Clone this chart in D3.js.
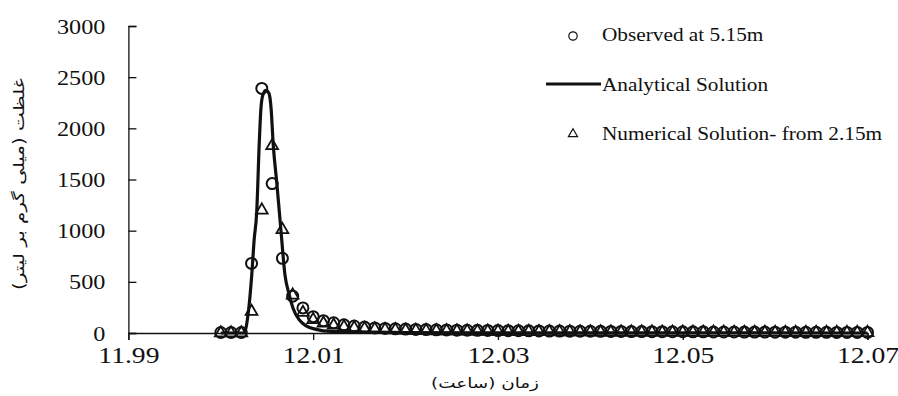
<!DOCTYPE html>
<html>
<head>
<meta charset="utf-8">
<script src="https://cdn.jsdelivr.net/npm/d3@7"></script>
<style>
  body { margin: 0; background: #fff; }
  svg { display: block; }
  .serif { font-family: "Liberation Serif", "Times New Roman", Times, "DejaVu Serif", serif; }
  .fa { font-family: "DejaVu Sans", sans-serif; }
</style>
</head>
<body>
<div id="chart"></div>
<script>
// sample times (hours), one every 4 seconds
const times = [12.00000, 12.00111, 12.00222, 12.00333, 12.00444, 12.00556, 12.00667, 12.00778, 12.00889, 12.01000,
    12.01111, 12.01222, 12.01333, 12.01444, 12.01556, 12.01667, 12.01778, 12.01889, 12.02000, 12.02111,
    12.02222, 12.02333, 12.02444, 12.02556, 12.02667, 12.02778, 12.02889, 12.03000, 12.03111, 12.03222,
    12.03333, 12.03444, 12.03556, 12.03667, 12.03778, 12.03889, 12.04000, 12.04111, 12.04222, 12.04333,
    12.04444, 12.04556, 12.04667, 12.04778, 12.04889, 12.05000, 12.05111, 12.05222, 12.05333, 12.05444,
    12.05556, 12.05667, 12.05778, 12.05889, 12.06000, 12.06111, 12.06222, 12.06333, 12.06444, 12.06556,
    12.06667, 12.06778, 12.06889, 12.07000];

const observed = [5, 5, 5, 680, 2390, 1460, 730, 360, 245, 160,
    120, 100, 80, 68, 58, 50, 45, 41, 38, 35,
    33, 31, 30, 28, 27, 26, 25, 24, 23, 22,
    21, 20, 19, 19, 18, 17, 17, 16, 15, 15,
    14, 14, 13, 13, 12, 12, 11, 11, 10, 10,
    10, 9, 9, 9, 8, 8, 8, 7, 7, 7,
    6, 6, 6, 6];

const numerical = [0, 0, 0, 210, 1200, 1830, 1010, 370, 200, 130,
    95, 75, 60, 50, 43, 37, 33, 30, 27, 25,
    23, 21, 20, 19, 18, 17, 16, 15, 14, 14,
    13, 12, 12, 11, 11, 10, 10, 9, 9, 9,
    8, 8, 8, 7, 7, 7, 6, 6, 6, 6,
    5, 5, 5, 5, 5, 4, 4, 4, 4, 4,
    4, 3, 3, 3];

const analyticTimes = [12.0000, 12.00251, 12.00295, 12.00335, 12.00360, 12.00389, 12.00417, 12.00435, 12.00457,
    12.00489, 12.00522, 12.00544, 12.00568, 12.00605, 12.00649, 12.00695, 12.00739, 12.00783,
    12.00848, 12.00924, 12.01032, 12.01194, 12.0200, 12.0300, 12.0700];
const analyticValues = [0, 0, 180, 566, 900, 1185, 1870, 2200, 2330,
    2370, 2340, 2200, 1836, 1478, 1025, 566, 380, 240,
    130, 70, 35, 15, 5, 2, 0];

const xTicks = [11.99, 12.01, 12.03, 12.05, 12.07];
const yTicks = [0, 500, 1000, 1500, 2000, 2500, 3000];
const legendLabels = ["Observed at 5.15m", "Analytical Solution", "Numerical Solution- from 2.15m"];
const yTitle = "غلظت (میلی گرم بر لیتر)";
const xTitle = "زمان (ساعت)";

const width = 898, height = 396;
const svg = d3.select("#chart").append("svg")
    .attr("width", width)
    .attr("height", height);

const x = d3.scaleLinear().domain([11.99, 12.07]).range([128.4, 867.5]);
const y = d3.scaleLinear().domain([0, 3000]).range([333, 26]);

const ink = "#111";

// stretch text horizontally a bit, like the original
function stretch(sel, k) {
    sel.each(function () {
        let w = this.getComputedTextLength();
        d3.select(this).attr("textLength", w * k).attr("lengthAdjust", "spacingAndGlyphs");
    });
}

// y axis, ticks pointing inward
let yAxis = svg.append("g")
    .attr("transform", `translate(${x.range()[0]},0)`)
    .call(d3.axisLeft(y).tickValues(yTicks).tickSize(-8).tickPadding(23).tickFormat(d3.format("d")));
yAxis.attr("font-family", null);
yAxis.select(".domain").attr("stroke", ink).attr("stroke-width", 1.3);
yAxis.selectAll(".tick line").attr("stroke", ink).attr("stroke-width", 1.3);
yAxis.selectAll(".tick text")
    .attr("class", "serif").attr("font-size", 22).attr("fill", ink)
    .call(stretch, 1.1);

// x axis
let xAxis = svg.append("g")
    .attr("transform", `translate(0,${y(0)})`)
    .call(d3.axisBottom(x).tickValues(xTicks).tickSize(7).tickPadding(6).tickFormat(d3.format(".2f")));
xAxis.attr("font-family", null);
xAxis.select(".domain").attr("stroke", ink).attr("stroke-width", 1.3);
xAxis.selectAll(".tick line").attr("stroke", ink).attr("stroke-width", 1.3);
xAxis.selectAll(".tick text")
    .attr("class", "serif").attr("font-size", 24).attr("fill", ink)
    .call(stretch, 1.15);

// observed circles
svg.append("g")
    .selectAll("circle")
    .data(times.map((t, i) => ({t: t, v: observed[i]})))
    .enter()
    .append("circle")
    .attr("cx", d => x(d.t))
    .attr("cy", d => y(d.v))
    .attr("r", 5.5)
    .attr("fill", "none")
    .attr("stroke", ink)
    .attr("stroke-width", 2);

// analytical line
let line = d3.line()
    .x(d => x(d[0]))
    .y(d => y(d[1]))
    .curve(d3.curveMonotoneX);
svg.append("path")
    .datum(analyticTimes.map((t, i) => [t, analyticValues[i]]))
    .attr("d", line)
    .attr("fill", "none")
    .attr("stroke", ink)
    .attr("stroke-width", 3.2);

// numerical triangles
let tri = d3.symbol().type(d3.symbolTriangle).size(60);
svg.append("g")
    .selectAll("path")
    .data(times.map((t, i) => ({t: t, v: numerical[i]})))
    .enter()
    .append("path")
    .attr("d", tri)
    .attr("transform", d => `translate(${x(d.t)},${y(d.v)})`)
    .attr("fill", "none")
    .attr("stroke", ink)
    .attr("stroke-width", 1.8);

// legend
let legend = svg.append("g");
legend.append("circle")
    .attr("cx", 573).attr("cy", 36).attr("r", 4.2)
    .attr("fill", "none").attr("stroke", ink).attr("stroke-width", 1.2);
legend.append("line")
    .attr("x1", 546).attr("x2", 601).attr("y1", 84).attr("y2", 84)
    .attr("stroke", ink).attr("stroke-width", 3.2);
legend.append("path")
    .attr("d", d3.symbol().type(d3.symbolTriangle).size(36))
    .attr("transform", "translate(573,134)")
    .attr("fill", "none").attr("stroke", ink).attr("stroke-width", 1.2);
legend.selectAll("text")
    .data(legendLabels)
    .enter()
    .append("text")
    .attr("class", "serif")
    .attr("x", 602)
    .attr("y", (d, i) => [41, 91, 140][i])
    .attr("font-size", 19)
    .attr("fill", ink)
    .text(d => d)
    .call(stretch, 1.12);

// axis titles (Persian)
svg.append("text")
    .attr("class", "fa")
    .attr("transform", "translate(24,184) rotate(-90)")
    .attr("text-anchor", "middle")
    .attr("font-size", 15)
    .attr("fill", ink)
    .attr("textLength", 212)
    .attr("lengthAdjust", "spacingAndGlyphs")
    .text(yTitle);

svg.append("text")
    .attr("class", "fa")
    .attr("x", 485)
    .attr("y", 388)
    .attr("text-anchor", "middle")
    .attr("font-size", 14)
    .attr("fill", ink)
    .attr("textLength", 108)
    .attr("lengthAdjust", "spacingAndGlyphs")
    .text(xTitle);
</script>
</body>
</html>
